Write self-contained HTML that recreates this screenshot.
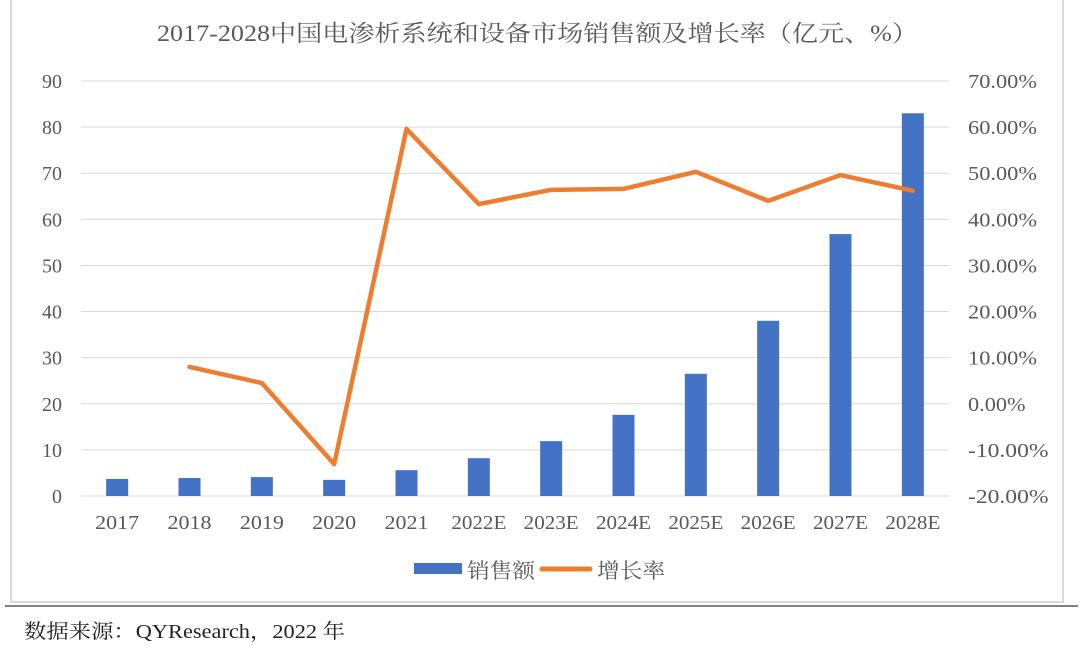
<!DOCTYPE html>
<html><head><meta charset="utf-8"><style>
body{margin:0;background:#fff;width:1080px;height:646px;overflow:hidden;font-family:"Liberation Serif","Noto Serif CJK SC",serif;}
</style></head><body>
<svg id="c" width="1080" height="646" style="position:absolute;left:0;top:0">
<rect x="11" y="-2" width="1052" height="604" fill="#fff" stroke="#d9d9d9" stroke-width="2"/>
<line x1="5" y1="606" x2="1078" y2="606" stroke="#555" stroke-width="1.5"/>
<text x="157" y="41" textLength="761" lengthAdjust="spacingAndGlyphs" font-size="23" fill="#595959">2017-2028中国电渗析系统和设备市场销售额及增长率（亿元、%）</text>
<g id="grid"></g><g id="bars"></g><g id="line"></g><g id="labels"></g>
<g>
<rect x="414" y="563" width="48" height="11" fill="#4472c4"/>
<text x="467" y="578" textLength="68" lengthAdjust="spacingAndGlyphs" font-size="21" fill="#595959">销售额</text>
<line x1="542" y1="569" x2="590" y2="569" stroke="#ed7d31" stroke-width="5" stroke-linecap="round"/>
<text x="597" y="578" textLength="68" lengthAdjust="spacingAndGlyphs" font-size="21" fill="#595959">增长率</text>
</g>
<text x="24" y="638" textLength="321" lengthAdjust="spacingAndGlyphs" font-size="20" fill="#222">数据来源：QYResearch，2022 年</text>
</svg>
<script>
const categories=["2017","2018","2019","2020","2021","2022E","2023E","2024E","2025E","2026E","2027E","2028E"];
const sales=[3.7,3.9,4.1,3.5,5.6,8.2,11.9,17.6,26.5,38,56.8,83];
const growth=[null,8.0,4.5,-13.1,59.6,43.3,46.4,46.6,50.3,44.0,49.6,46.2];
const leftTicks=[0,10,20,30,40,50,60,70,80,90];
const rightTicks=["-20.00%","-10.00%","0.00%","10.00%","20.00%","30.00%","40.00%","50.00%","60.00%","70.00%"];
const NS="http://www.w3.org/2000/svg";
const y0=496,y1=81,x0=81,x1=949;
const yL=v=>y0-(v/90)*(y0-y1);
const yR=v=>y0-((v+20)/90)*(y0-y1);
const step=(x1-x0)/categories.length;
const xC=i=>x0+step*(i+0.5);
function mk(t,a,p){const e=document.createElementNS(NS,t);for(const k in a)e.setAttribute(k,a[k]);document.getElementById(p).appendChild(e);return e;}
leftTicks.forEach((v,i)=>{
 const g=mk("line",{x1:x0,x2:x1,y1:yL(v),y2:yL(v),stroke:"#d9d9d9","stroke-width":1},"grid");
 
 
 const t=mk("text",{x:62,y:yL(v)+7,"text-anchor":"end","font-size":20,fill:"#595959"},"labels");
 t.textContent=v;
 
 
 const lbl=rightTicks[i];
 const r=mk("text",{x:968,y:yL(v)+7,"font-size":20,fill:"#595959",textLength:lbl.length*11.5,lengthAdjust:"spacingAndGlyphs"},"labels");
 r.textContent=lbl;
 
 
});
categories.forEach((c,i)=>{
 const b=mk("rect",{x:xC(i)-11,y:yL(sales[i]),width:22,height:y0-yL(sales[i]),fill:"#4472c4"},"bars");
 
 
 const t=mk("text",{x:xC(i),y:529,"text-anchor":"middle","font-size":20,fill:"#595959",textLength:c.length*11,lengthAdjust:"spacingAndGlyphs"},"labels");
 t.textContent=c;
 
 
});
let d="";growth.forEach((g,i)=>{if(g===null)return;d+=(d?"L":"M")+xC(i)+","+yR(g);});
const p=mk("path",{d:d,fill:"none",stroke:"#ed7d31","stroke-width":4.5,"stroke-linejoin":"round","stroke-linecap":"round"},"line");


</script>
</body></html>
